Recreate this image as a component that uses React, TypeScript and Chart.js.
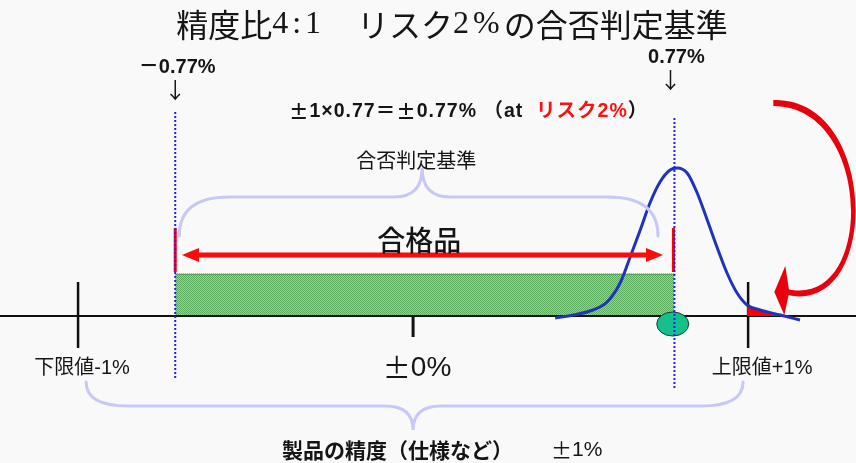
import React, { useEffect, useRef } from "react";
import { Chart, registerables } from "chart.js";

Chart.register(...registerables);

// ---------------- data (x: deviation in %, y: relative height) ----------------
const xRange = [-1.233, 1.322];
const yRange = [-1.47, 3.16];

const specLimits = [-1, 1]; // 下限値-1% / 上限値+1%
const nominalValue = [0]; // ±0%
const decisionLimits = [-0.71, 0.78]; // −0.77% / 0.77% (as drawn)
const bandHeight = [0.42]; // 合格品 band height
const specTickSpan = [0.34, -0.32];
const nominalTickSpan = [0, -0.21];
const decisionLineSpanLeft = [2.04, -0.62];
const decisionLineSpanRight = [1.98, -0.74];
const decisionMarkSpan = [0.88, 0.44];
const acceptArrowX = [-0.69, 0.746];
const acceptArrowY = [0.61];
const riskPoint = [0.775, -0.08];

const curveX = [0.424, 0.478, 0.537, 0.579, 0.618, 0.648, 0.678, 0.707, 0.737, 0.767, 0.788, 0.818, 0.848, 0.878, 0.907, 0.937, 0.967, 0.997, 1.036, 1.096, 1.155];
const curveY = [-0.02, 0.01, 0.06, 0.14, 0.33, 0.59, 0.86, 1.13, 1.34, 1.46, 1.48, 1.43, 1.23, 0.96, 0.69, 0.43, 0.23, 0.11, 0.06, 0.01, -0.04];
const tailCrossX = [1.105]; // where the curve meets the axis

// braces: [left end, centre, right end] and [end y, flat y, tip y]
const acceptBraceX = [-0.698, 0.027, 0.731];
const acceptBraceY = [0.8, 1.19, 1.48];
const specBraceX = [-0.976, 0, 0.985];
const specBraceY = [-0.66, -0.9, -1.14];

// text
const titleParts: [string, string][] = [
  ["精度比", "sans"],
  ["4:1", "serif"],
  ["　リスク", "sans"],
  ["2%", "serif"],
  ["の合否判定基準", "sans"],
];
const minusLabel = "－0.77%";
const plusLabel = "0.77%";
const formulaBlack = "±1×0.77＝±0.77% （at  ";
const formulaRed = "リスク2%";
const formulaEnd = "）";
const braceTopLabel = "合否判定基準";
const bandLabel = "合格品";
const lowerLabel = "下限値-1%";
const nominalLabel = "±0%";
const upperLabel = "上限値+1%";
const bottomLabelBold = "製品の精度（仕様など）";
const bottomLabelTol = "±1%";

const JP = "'Noto Sans CJK JP', sans-serif";
const LAT = "'Liberation Sans', 'Noto Sans CJK JP', sans-serif";
const SERIF = "'Liberation Serif', serif";

function drawBrace(ctx: CanvasRenderingContext2D, x1: number, xm: number, x2: number, yEnd: number, yFlat: number, yTip: number, rEnd: number, rMid: number) {
  ctx.beginPath();
  ctx.moveTo(x1, yEnd);
  ctx.quadraticCurveTo(x1, yFlat, x1 + rEnd, yFlat);
  ctx.lineTo(xm - rMid, yFlat);
  ctx.quadraticCurveTo(xm, yFlat, xm, yTip);
  ctx.quadraticCurveTo(xm, yFlat, xm + rMid, yFlat);
  ctx.lineTo(x2 - rEnd, yFlat);
  ctx.quadraticCurveTo(x2, yFlat, x2, yEnd);
  ctx.stroke();
}

// draw text where "±" uses a wide glyph, rest in given font
function drawMixed(ctx: CanvasRenderingContext2D, text: string, x: number, y: number, font: string, pmFont: string, align: "left" | "center") {
  const parts = text.split(/(±)/).filter((s) => s.length);
  const widths = parts.map((p) => {
    ctx.font = p === "±" ? pmFont : font;
    return ctx.measureText(p).width;
  });
  const total = widths.reduce((a, b) => a + b, 0);
  let cx = align === "center" ? x - total / 2 : x;
  ctx.textAlign = "left";
  parts.forEach((p, i) => {
    ctx.font = p === "±" ? pmFont : font;
    ctx.fillText(p, cx, y);
    cx += widths[i];
  });
  return cx;
}

const diagramPlugin = {
  id: "diagram",
  beforeDraw(chart: any) {
    const ctx = chart.ctx;
    ctx.save();
    ctx.fillStyle = "#f9f9f9";
    ctx.fillRect(0, 0, chart.width, chart.height);
    ctx.restore();
  },
  afterDatasetDraw(chart: any, args: any) {
    const ds = chart.data.datasets[args.index];
    if (ds.label !== "decisionMarkRight") return;
    const ctx = chart.ctx;
    const xs = chart.scales.x, ys = chart.scales.y;
    ctx.save();
    ctx.beginPath();
    ctx.ellipse(xs.getPixelForValue(riskPoint[0]), ys.getPixelForValue(riskPoint[1]), 16, 12, 0, 0, Math.PI * 2);
    ctx.fillStyle = "#14c08c";
    ctx.fill();
    ctx.lineWidth = 1;
    ctx.strokeStyle = "#1d3d33";
    ctx.stroke();
    ctx.restore();
  },
  afterDatasetsDraw(chart: any) {
    const ctx: CanvasRenderingContext2D = chart.ctx;
    const xs = chart.scales.x, ys = chart.scales.y;
    const px = (v: number) => xs.getPixelForValue(v);
    const py = (v: number) => ys.getPixelForValue(v);
    ctx.save();

    // braces
    ctx.strokeStyle = "#c8c8f7";
    ctx.lineWidth = 3;
    ctx.lineCap = "round";
    drawBrace(ctx, px(acceptBraceX[0]), px(acceptBraceX[1]), px(acceptBraceX[2]), py(acceptBraceY[0]), py(acceptBraceY[1]), py(acceptBraceY[2]), 50, 28);
    drawBrace(ctx, px(specBraceX[0]), px(specBraceX[1]), px(specBraceX[2]), py(specBraceY[0]), py(specBraceY[1]), py(specBraceY[2]), 42, 28);

    // red double arrow (合格品)
    const ax1 = px(acceptArrowX[0]), ax2 = px(acceptArrowX[1]), ay = py(acceptArrowY[0]);
    ctx.fillStyle = "#ff0a0a";
    ctx.fillRect(ax1 + 10, ay - 2.5, ax2 - ax1 - 20, 5);
    ctx.beginPath();
    ctx.moveTo(ax1, ay);
    ctx.lineTo(ax1 + 17, ay - 7);
    ctx.lineTo(ax1 + 17, ay + 7);
    ctx.closePath();
    ctx.fill();
    ctx.beginPath();
    ctx.moveTo(ax2, ay);
    ctx.lineTo(ax2 - 17, ay - 7);
    ctx.lineTo(ax2 - 17, ay + 7);
    ctx.closePath();
    ctx.fill();

    // big curved red arrow towards the risk tail
    const tx = px(tailCrossX[0]);
    const ty = py(0);
    ctx.fillStyle = "#e8000c";
    ctx.beginPath();
    ctx.moveTo(tx - 10, 100);
    ctx.bezierCurveTo(tx + 98, 97, tx + 98, ty + 6, tx, ty - 22);
    ctx.lineTo(tx, ty - 28);
    ctx.bezierCurveTo(tx + 92, ty, tx + 92, 106, tx - 10, 106);
    ctx.closePath();
    ctx.fill();
    ctx.beginPath();
    ctx.moveTo(tx + 2, ty - 50);
    ctx.lineTo(tx - 9, ty - 24);
    ctx.lineTo(tx + 1, ty - 1);
    ctx.lineTo(tx + 6, ty - 24);
    ctx.closePath();
    ctx.fill();

    // texts
    ctx.textBaseline = "middle";
    ctx.fillStyle = "#151515";

    // title (mixed fonts)
    const tSize = 32;
    let total = 0;
    const widths: number[] = [];
    for (const [t, f] of titleParts) {
      ctx.font = `${tSize}px ${f === "serif" ? SERIF : JP}`;
      (ctx as any).letterSpacing = f === "serif" ? "4px" : "0px";
      const w = ctx.measureText(t).width;
      widths.push(w);
      total += w;
    }
    let tx0 = 452 - total / 2;
    ctx.textAlign = "left";
    titleParts.forEach(([t, f], i) => {
      ctx.font = `${tSize}px ${f === "serif" ? SERIF : JP}`;
      (ctx as any).letterSpacing = f === "serif" ? "4px" : "0px";
      ctx.fillText(t, tx0, 25);
      tx0 += widths[i];
    });
    (ctx as any).letterSpacing = "0px";

    ctx.textAlign = "center";
    ctx.font = `bold 20px ${LAT}`;
    ctx.fillText(minusLabel, px(decisionLimits[0]) + 2, 67);
    ctx.fillText(plusLabel, px(decisionLimits[1]) + 2, 57);
    ctx.font = `22px ${JP}`;
    ctx.fillText("↓", px(decisionLimits[0]), 90);
    ctx.fillText("↓", px(decisionLimits[1]) - 4, 80);

    // formula line
    (ctx as any).letterSpacing = "1px";
    let fx = drawMixed(ctx, formulaBlack, 289, 112, `bold 19.5px ${LAT}`, `bold 19.5px ${JP}`, "left");
    ctx.fillStyle = "#ff1010";
    ctx.font = `bold 19.5px ${LAT}`;
    ctx.fillText(formulaRed, fx, 112);
    fx += ctx.measureText(formulaRed).width;
    ctx.fillStyle = "#151515";
    ctx.fillText(formulaEnd, fx, 112);
    (ctx as any).letterSpacing = "0px";

    ctx.textAlign = "center";
    ctx.font = `20px ${JP}`;
    ctx.fillText(braceTopLabel, px(acceptBraceX[1]) - 6, 160);
    ctx.font = `500 28px ${JP}`;
    ctx.fillText(bandLabel, px(acceptBraceX[1]) - 3, 240);

    ctx.font = `20px ${LAT}`;
    ctx.fillText(lowerLabel, px(specLimits[0]) + 4, 368);
    ctx.fillText(upperLabel, px(specLimits[1]) + 14, 368);
    drawMixed(ctx, nominalLabel, px(nominalValue[0]) + 4, 368, `28px ${LAT}`, `28px ${JP}`, "center");

    ctx.textAlign = "left";
    ctx.font = `bold 21px ${JP}`;
    ctx.fillText(bottomLabelBold, 282, 450);
    drawMixed(ctx, bottomLabelTol, 551, 450, `21px ${LAT}`, `21px ${JP}`, "left");

    ctx.restore();
  },
};

export default function App() {
  const ref = useRef<HTMLCanvasElement>(null);
  useEffect(() => {
    document.body.style.margin = "0";
    const canvas = ref.current!;
    const pc = document.createElement("canvas");
    pc.width = 2;
    pc.height = 2;
    const g = pc.getContext("2d")!;
    g.fillStyle = "#92d492";
    g.fillRect(0, 0, 2, 2);
    g.fillStyle = "#5cac5e";
    g.fillRect(0, 0, 1, 1);
    g.fillRect(1, 1, 1, 1);
    const pattern = canvas.getContext("2d")!.createPattern(pc, "repeat");

    const curve = curveX.map((x, i) => ({ x, y: curveY[i] }));
    const tail = curve.filter((p) => p.x >= specLimits[1] - 0.005 && p.y >= 0).concat([{ x: tailCrossX[0], y: 0 }]);

    const seg = (label: string, data: any[], color: string, width: number, order: number, extra: any = {}) => ({
      label,
      data,
      borderColor: color,
      borderWidth: width,
      pointRadius: 0,
      fill: false,
      order,
      ...extra,
    });

    const datasets: any[] = [
      seg(
        "band",
        [
          { x: decisionLimits[0], y: bandHeight[0] },
          { x: decisionLimits[1], y: bandHeight[0] },
        ],
        "#2f4f2f",
        1,
        10,
        { fill: "origin", backgroundColor: pattern, borderDash: [1, 1] }
      ),
      seg("axis", [
        { x: xRange[0], y: 0 },
        { x: xRange[1], y: 0 },
      ], "#111111", 2, 9),
      seg("specTickLow", [
        { x: specLimits[0], y: specTickSpan[0] },
        { x: specLimits[0], y: specTickSpan[1] },
      ], "#111111", 2.5, 8),
      seg("specTickHigh", [
        { x: specLimits[1], y: specTickSpan[0] },
        { x: specLimits[1], y: specTickSpan[1] },
      ], "#111111", 2.5, 8),
      seg("nominalTick", [
        { x: nominalValue[0], y: nominalTickSpan[0] },
        { x: nominalValue[0], y: nominalTickSpan[1] },
      ], "#111111", 3, 8),
      seg("tail", tail, "rgba(0,0,0,0)", 0, 7, { fill: "origin", backgroundColor: "#ff0000", cubicInterpolationMode: "monotone" }),
      seg("curve", curve, "#2233bb", 3, 6, { cubicInterpolationMode: "monotone" }),
      seg("decisionMarkLeft", [
        { x: decisionLimits[0], y: decisionMarkSpan[0] },
        { x: decisionLimits[0], y: decisionMarkSpan[1] },
      ], "#ff0000", 3, 5.5),
      seg("decisionMarkRight", [
        { x: decisionLimits[1] - 0.003, y: decisionMarkSpan[0] },
        { x: decisionLimits[1] - 0.003, y: decisionMarkSpan[1] },
      ], "#ff0000", 3, 5),
      seg("decisionLineLeft", [
        { x: decisionLimits[0], y: decisionLineSpanLeft[0] },
        { x: decisionLimits[0], y: decisionLineSpanLeft[1] },
      ], "#1f1fff", 2, 4, { borderDash: [2, 2] }),
      seg("decisionLineRight", [
        { x: decisionLimits[1], y: decisionLineSpanRight[0] },
        { x: decisionLimits[1], y: decisionLineSpanRight[1] },
      ], "#1f1fff", 2, 4, { borderDash: [2, 2] }),
    ];

    const chart = new Chart(canvas, {
      type: "line",
      data: { datasets },
      options: {
        animation: false,
        responsive: false,
        devicePixelRatio: 1,
        events: [],
        layout: { padding: 0 },
        scales: {
          x: { type: "linear", min: xRange[0], max: xRange[1], display: false },
          y: { type: "linear", min: yRange[0], max: yRange[1], display: false },
        },
        plugins: { legend: { display: false }, tooltip: { enabled: false } },
      },
      plugins: [diagramPlugin],
    } as any);
    return () => chart.destroy();
  }, []);
  return (
    <div style={{ width: 856, height: 463, position: "relative" }}>
      <canvas ref={ref} width={856} height={463} style={{ display: "block" }} />
    </div>
  );
}
